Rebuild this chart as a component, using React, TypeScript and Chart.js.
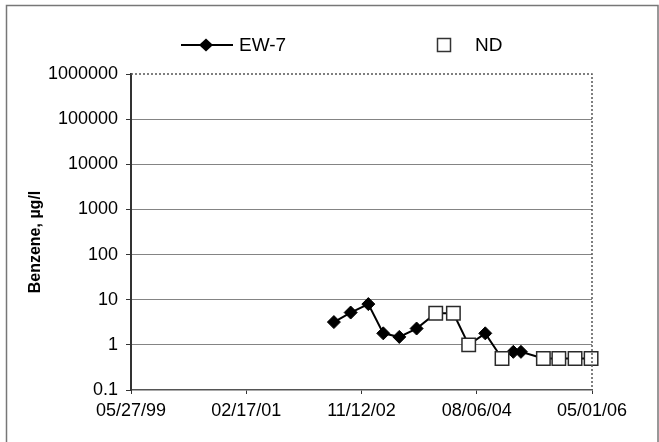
import React, { useEffect, useRef } from 'react';
import { Chart, registerables } from 'chart.js';

Chart.register(...registerables);

// Benzene results for well EW-7 (ND = not detected, plotted at reporting limit)
const sampleDates = [
  '2002-06-14', '2002-09-14', '2002-12-20', '2003-03-12', '2003-06-08', '2003-09-11',
  '2003-12-25', '2004-03-31', '2004-06-23', '2004-09-22', '2004-12-23', '2005-02-23',
  '2005-04-06', '2005-08-07', '2005-10-31', '2006-01-28', '2006-04-26',
];
const benzene = [3.2, 5.2, 8, 1.8, 1.5, 2.3, 5, 5, 1, 1.8, 0.5, 0.7, 0.7, 0.5, 0.5, 0.5, 0.5];
const nonDetect = [
  false, false, false, false, false, false,
  true, true, true, false, true, false,
  false, true, true, true, true,
];

const axisStart = '1999-05-27';
const axisEnd = '2006-05-01';
const yTicks = [0.1, 1, 10, 100, 1000, 10000, 100000, 1000000];

const seriesName = 'EW-7';
const ndName = 'ND';
const yTitle = 'Benzene, µg/l';

const FONT = '"Liberation Sans", Arial, sans-serif';

const toMs = (s: string) => Date.parse(s + 'T00:00:00Z');
const pad2 = (n: number) => String(n).padStart(2, '0');
const fmtDate = (ms: number) => {
  const d = new Date(ms);
  return `${pad2(d.getUTCMonth() + 1)}/${pad2(d.getUTCDate())}/${pad2(d.getUTCFullYear() % 100)}`;
};

const framePlugin = {
  id: 'frame',
  beforeDraw(chart: any) {
    const { ctx, width, height } = chart;
    ctx.save();
    ctx.fillStyle = '#fff';
    ctx.fillRect(0, 0, width, height);
    ctx.strokeStyle = '#777';
    ctx.lineWidth = 1.5;
    ctx.strokeRect(6.5, 5.5, 651.5, 470);
    ctx.restore();
  },
  afterDraw(chart: any) {
    const { ctx, chartArea: a } = chart;
    ctx.save();
    // dotted top and right edges of the plot area
    ctx.strokeStyle = '#555';
    ctx.lineWidth = 1.5;
    ctx.setLineDash([2, 2]);
    ctx.beginPath();
    ctx.moveTo(a.left, a.top);
    ctx.lineTo(a.right, a.top);
    ctx.lineTo(a.right, a.bottom);
    ctx.stroke();
    ctx.setLineDash([]);

    // axis title
    ctx.fillStyle = '#000';
    ctx.font = `bold 16px ${FONT}`;
    ctx.textAlign = 'center';
    ctx.textBaseline = 'middle';
    ctx.translate(36, 242);
    ctx.rotate(-Math.PI / 2);
    ctx.fillText(yTitle, 0, 0);
    ctx.restore();

    // legend
    ctx.save();
    const ly = 45;
    ctx.strokeStyle = '#000';
    ctx.lineWidth = 2;
    ctx.beginPath();
    ctx.moveTo(181, ly);
    ctx.lineTo(233, ly);
    ctx.stroke();
    ctx.fillStyle = '#000';
    ctx.beginPath();
    ctx.moveTo(199, ly);
    ctx.lineTo(206, ly - 6.5);
    ctx.lineTo(213, ly);
    ctx.lineTo(206, ly + 6.5);
    ctx.closePath();
    ctx.fill();

    ctx.fillStyle = '#fff';
    ctx.strokeStyle = '#333';
    ctx.lineWidth = 1.5;
    ctx.fillRect(437.5, ly - 6.5, 13, 13);
    ctx.strokeRect(437.5, ly - 6.5, 13, 13);

    ctx.fillStyle = '#000';
    ctx.font = `19px ${FONT}`;
    ctx.textAlign = 'left';
    ctx.textBaseline = 'middle';
    ctx.fillText(seriesName, 239, ly + 1);
    ctx.fillText(ndName, 475, ly + 1);
    ctx.restore();
  },
};

export default function App() {
  const canvasRef = useRef<HTMLCanvasElement | null>(null);

  useEffect(() => {
    if (!canvasRef.current) return;
    const xMin = toMs(axisStart);
    const xMax = toMs(axisEnd);

    const allPoints = sampleDates.map((d, i) => ({ x: toMs(d), y: benzene[i] }));
    const ndPoints = allPoints.filter((_, i) => nonDetect[i]);

    const chart = new Chart(canvasRef.current, {
      type: 'line',
      data: {
        datasets: [
          {
            label: ndName,
            data: ndPoints,
            showLine: false,
            pointStyle: 'rect',
            pointRadius: 9.5,
            pointHoverRadius: 9.5,
            pointBackgroundColor: '#fff',
            pointBorderColor: '#2a2a2a',
            pointBorderWidth: 1.5,
            order: 0,
            clip: false,
          },
          {
            label: seriesName,
            data: allPoints,
            borderColor: '#000',
            borderWidth: 2,
            pointStyle: 'rectRot',
            pointRadius: (c: any) => (nonDetect[c.dataIndex] ? 0 : 6.5),
            pointHoverRadius: (c: any) => (nonDetect[c.dataIndex] ? 0 : 6.5),
            pointBackgroundColor: '#000',
            pointBorderColor: '#000',
            pointBorderWidth: 1,
            order: 1,
            clip: false,
          },
        ],
      },
      options: {
        responsive: false,
        animation: false,
        events: [],
        layout: { padding: { top: 74, right: 67, bottom: 0, left: 0 } },
        plugins: { legend: { display: false }, tooltip: { enabled: false } },
        scales: {
          x: {
            type: 'linear',
            min: xMin,
            max: xMax,
            afterBuildTicks: (scale: any) => {
              scale.ticks = [0, 1, 2, 3, 4].map((k) => ({ value: xMin + (k * (xMax - xMin)) / 4 }));
            },
            afterFit: (scale: any) => {
              scale.height = 52;
            },
            grid: {
              drawOnChartArea: false,
              drawTicks: true,
              tickLength: 4,
              tickColor: '#333',
            },
            border: { color: '#555', width: 1.5, dash: [2, 2] },
            ticks: {
              maxRotation: 0,
              autoSkip: false,
              padding: 6,
              color: '#000',
              font: { family: FONT, size: 18 },
              callback: (v: any) => fmtDate(Number(v)),
            },
          },
          y: {
            type: 'logarithmic',
            min: 0.1,
            max: 1000000,
            afterBuildTicks: (scale: any) => {
              scale.ticks = yTicks.map((v) => ({ value: v }));
            },
            afterFit: (scale: any) => {
              scale.width = 131;
            },
            grid: {
              color: (c: any) =>
                c.tick && (c.tick.value === 0.1 || c.tick.value === 1000000) ? 'rgba(0,0,0,0)' : '#848484',
              lineWidth: 1,
              tickLength: 5,
              tickColor: '#333',
            },
            border: { color: '#333', width: 2 },
            ticks: {
              autoSkip: false,
              padding: 8,
              color: '#000',
              font: { family: FONT, size: 18 },
              callback: (v: any) => String(v),
            },
          },
        },
      },
      plugins: [framePlugin],
    });

    return () => chart.destroy();
  }, []);

  return (
    <div style={{ position: 'fixed', left: 0, top: 0, width: 659, height: 442, background: '#fff' }}>
      <canvas ref={canvasRef} width={659} height={442} style={{ display: 'block' }} />
    </div>
  );
}
